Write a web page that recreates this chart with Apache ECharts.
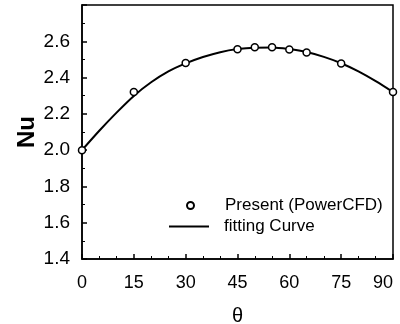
<!DOCTYPE html>
<html>
<head>
<meta charset="utf-8">
<script src="https://cdn.jsdelivr.net/npm/echarts@6/dist/echarts.min.js"></script>
<style>
  html, body { margin: 0; padding: 0; background: #fff; }
  #chart { width: 400px; height: 324px; }
</style>
</head>
<body>
<div id="chart"></div>
<script>
// measured points (PowerCFD)
var thetaPts = [0, 15, 30, 45, 50, 55, 60, 65, 75, 90];
var nuPts = [2.0, 2.32, 2.48, 2.556, 2.567, 2.567, 2.555, 2.538, 2.478, 2.32];

// fitting curve
var thetaFit = [0, 5, 10, 15, 20, 25, 30, 35, 40, 45, 50, 55, 60, 65, 70, 75, 80, 85, 90];
var nuFit = [2.0, 2.107, 2.207, 2.299, 2.374, 2.434, 2.478, 2.513, 2.540, 2.557, 2.565, 2.566, 2.557, 2.541, 2.514, 2.479, 2.434, 2.380, 2.32];

var xTicks = [0, 15, 30, 45, 60, 75, 90];
var yTicks = ['1.4', '1.6', '1.8', '2.0', '2.2', '2.4', '2.6'];

var font = 'Liberation Sans, Arial, sans-serif';

var chart = echarts.init(document.getElementById('chart'));

var option = {
    animation: false,
    backgroundColor: '#fff',
    grid: {
        left: 82, right: 7, top: 5, bottom: 65,
        outerBoundsMode: 'none',
        show: true, borderColor: '#000', borderWidth: 1.5
    },
    legend: [
        {
            data: [{name: 'Present (PowerCFD)', icon: 'circle'}],
            left: 186, top: 197, padding: 0,
            itemWidth: 7, itemHeight: 7,
            formatter: '{g|}{n|{name}}',
            textStyle: {
                fontFamily: font, fontSize: 17, color: '#000', lineHeight: 16,
                rich: {g: {width: 26}, n: {fontFamily: font, fontSize: 17, color: '#000'}}
            }
        },
        {
            data: [{name: 'fitting Curve', icon: 'rect'}],
            left: 169, top: 218, padding: 0,
            itemWidth: 40, itemHeight: 2,
            formatter: '{g|}{n|{name}}',
            textStyle: {
                fontFamily: font, fontSize: 17, color: '#000', lineHeight: 16,
                rich: {g: {width: 10}, n: {fontFamily: font, fontSize: 17, color: '#000'}}
            }
        }
    ],
    xAxis: {
        type: 'value', min: 0, max: 90, interval: 15,
        name: 'θ', nameLocation: 'middle', nameGap: 47, nameMoveOverlap: false,
        nameTextStyle: {fontFamily: font, fontSize: 20, color: '#000'},
        axisLine: {lineStyle: {color: '#000', width: 1.5}},
        axisTick: {inside: true, length: 5, lineStyle: {color: '#000', width: 1.5}},
        minorTick: {show: true, splitNumber: 3, length: 3, lineStyle: {color: '#000', width: 1}},
        splitLine: {show: false},
        axisLabel: {
            margin: 15, fontFamily: font, fontSize: 18, color: '#000',
            alignMaxLabel: 'right',
            formatter: function (v) { return xTicks.indexOf(v) >= 0 ? String(v) : ''; }
        }
    },
    yAxis: {
        type: 'value', min: 1.4, max: 2.8, interval: 0.2,
        name: 'Nu', nameLocation: 'middle', nameGap: 43, nameRotate: 90, nameMoveOverlap: false,
        nameTextStyle: {fontFamily: font, fontSize: 24, fontWeight: 'bold', color: '#000'},
        axisLine: {lineStyle: {color: '#000', width: 1.5}},
        axisTick: {inside: true, length: 5, lineStyle: {color: '#000', width: 1.5}},
        minorTick: {show: true, splitNumber: 2, length: 3, lineStyle: {color: '#000', width: 1}},
        splitLine: {show: false},
        axisLabel: {
            margin: 12, fontFamily: font, fontSize: 19, color: '#000',
            formatter: function (v) {
                var s = v.toFixed(1);
                return yTicks.indexOf(s) >= 0 ? s : '';
            }
        }
    },
    series: [
        {
            name: 'fitting Curve',
            type: 'line',
            data: thetaFit.map(function (t, i) { return [t, nuFit[i]]; }),
            smooth: 0.3,
            symbol: 'none',
            lineStyle: {color: '#000', width: 2},
            itemStyle: {color: '#000'},
            z: 2
        },
        {
            name: 'Present (PowerCFD)',
            type: 'scatter',
            data: thetaPts.map(function (t, i) { return [t, nuPts[i]]; }),
            symbol: 'circle',
            symbolSize: 7,
            itemStyle: {color: '#fff', borderColor: '#000', borderWidth: 1.5, opacity: 1},
            z: 3
        }
    ]
};

chart.setOption(option);
</script>
</body>
</html>
